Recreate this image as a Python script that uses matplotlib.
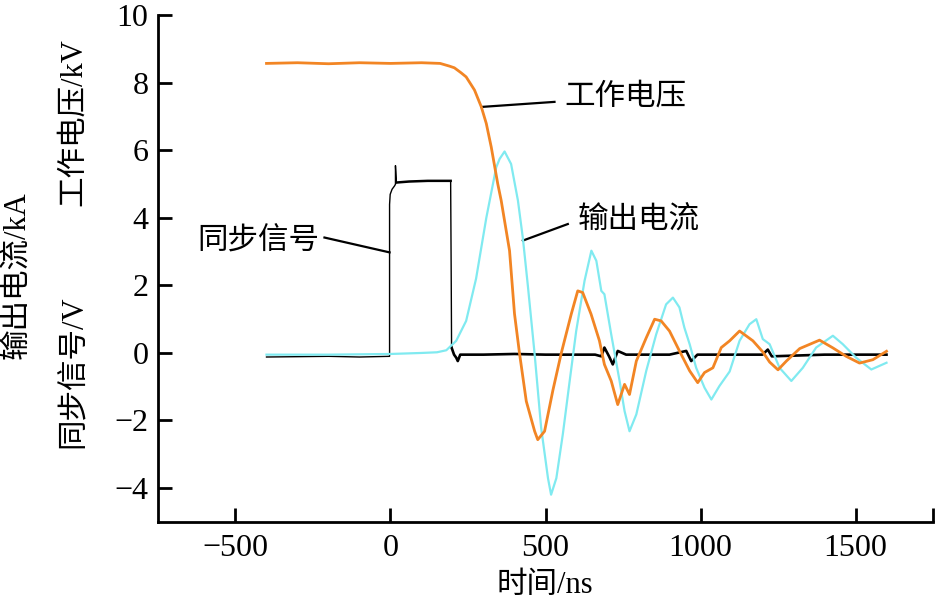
import matplotlib
matplotlib.use("Agg")
import matplotlib.pyplot as plt

# 字体: 数字用 Times 风格, 中文回退到 Noto Sans CJK
plt.rcParams['font.family'] = ['Liberation Serif', 'Noto Sans CJK SC']
plt.rcParams['axes.unicode_minus'] = True

# 工作电压 (kV)
volt_t = [-400, -300, -200, -100, 0, 100, 160, 190, 206, 228, 244, 260, 271, 293, 309,
          325, 346, 357, 384, 400, 416, 438, 465, 475, 497, 524, 551, 583, 604, 620,
          647, 674, 690, 712, 733, 755, 771, 793, 825, 852, 873, 900, 932, 965, 991,
          1013, 1040, 1067, 1094, 1126, 1169, 1201, 1223, 1250, 1277, 1320, 1384, 1427,
          1470, 1513, 1556, 1600]
volt_v = [8.58, 8.6, 8.57, 8.6, 8.58, 8.6, 8.58, 8.5, 8.45, 8.3, 8.18, 7.95, 7.79, 7.29, 6.80,
          6.10, 5.01, 4.52, 3.03, 1.16, 0.0, -1.43, -2.32, -2.57, -2.32, -1.1, 0.0, 1.15, 1.84, 1.79,
          1.15, 0.36, -0.34, -0.83, -1.53, -0.93, -1.23, -0.24, 0.45, 1.0, 0.95, 0.65, 0.06, -0.53, -0.88,
          -0.58, -0.44, 0.16, 0.36, 0.65, 0.36, 0.03, -0.27, -0.5, -0.24, 0.13, 0.38, 0.15,
          -0.1, -0.3, -0.2, 0.05]

# 输出电流 (kA)
curr_t = [-400, -200, 0, 100, 150, 180, 212, 244, 276, 309, 341, 352, 368, 389, 411, 427, 443,
          465, 486, 508, 518, 535, 556, 577, 599, 626, 648, 664, 680, 690, 712, 739, 755, 771,
          793, 825, 857, 889, 911, 932, 948, 965, 986, 1013, 1035, 1061, 1094, 1126, 1158,
          1180, 1201, 1223, 1255, 1293, 1330, 1373, 1427, 1459, 1502, 1551, 1600]
curr_v = [-0.05, -0.05, -0.03, 0.0, 0.02, 0.08, 0.36, 0.95, 2.2, 4.0, 5.5, 5.75, 5.97, 5.6, 4.52, 3.4, 2.0,
          -0.04, -2.22, -3.71, -4.2, -3.71, -2.4, -0.9, 0.65, 2.14, 3.03, 2.73, 1.84, 1.74, 0.55, -0.83, -1.72, -2.32,
          -1.82, -0.53, 0.55, 1.44, 1.64, 1.35, 0.75, 0.26, -0.44, -1.03, -1.38, -0.98, -0.55, 0.36, 0.85,
          1.0, 0.41, 0.26, -0.44, -0.83, -0.44, 0.16, 0.51, 0.26, -0.14, -0.49, -0.29]

# 同步信号 (V)
sync_t = [-400, -200, -100, -3, -3, -1, 5, 13, 16, 16, 19, 60, 120, 194, 196, 197, 205, 212, 217,
          225, 300, 400, 500, 600, 660, 680, 690, 705, 717, 733, 760, 900, 954, 970, 990, 1200,
          1217, 1230, 1400, 1600]
sync_v = [-0.12, -0.1, -0.12, -0.1, 4.4, 4.7, 4.85, 4.95, 5.0, 5.55, 5.05, 5.08, 5.1, 5.1, 2.0, 0.16,
          -0.05, -0.14, -0.24, -0.05, -0.05, -0.03, -0.05, -0.05, -0.05, -0.1, 0.16, -0.1, -0.34, 0.06,
          -0.05, -0.05, 0.06, -0.24, -0.05, -0.05, 0.1, -0.1, -0.05, -0.05]

fig = plt.figure(figsize=(9.36, 6.05), dpi=100)
ax = fig.add_axes([0.1688, 0.1377, 0.8280, 0.8367])

# 同步信号: 脉冲前后噪声不同, 线宽分段
ax.plot(sync_t[:11], sync_v[:11], color='black', lw=1.0, zorder=2)
ax.plot(sync_t[10:14], sync_v[10:14], color='black', lw=1.8, zorder=2)
ax.plot(sync_t[13:16], sync_v[13:16], color='black', lw=1.0, zorder=2)
ax.plot(sync_t[15:], sync_v[15:], color='black', lw=1.9, zorder=2)
ax.plot(curr_t, curr_v, color='#80EAF0', lw=1.6, zorder=3)
ax.plot(volt_t, volt_v, color='#F28524', lw=2.0, zorder=4)

# 标注
ax.plot([293, 529], [7.29, 7.44], color='black', lw=1.6)
ax.text(561, 7.58, '工作电压', fontsize=22, va='center', ha='left')
ax.plot([427, 572], [3.33, 3.82], color='black', lw=1.6)
ax.text(603, 3.92, '输出电流', fontsize=22, va='center', ha='left')
ax.plot([-213, -3], [3.42, 2.98], color='black', lw=1.6)
ax.text(-229, 3.33, '同步信号', fontsize=22, va='center', ha='right')

ax.set_xlim(-750, 1750)
ax.set_ylim(-5, 10)
ax.set_xticks([-500, 0, 500, 1000, 1500])
ax.set_xticks([1750], minor=True)
ax.set_yticks([-4, -2, 0, 2, 4, 6, 8, 10])

for s in ['top', 'right']:
    ax.spines[s].set_visible(False)
for s in ['left', 'bottom']:
    ax.spines[s].set_linewidth(2)
ax.tick_params(which='both', direction='in', length=10, width=2, labelsize=23)
ax.tick_params(axis='x', pad=9)
ax.tick_params(axis='y', pad=7)

fig.text(0.582, 0.033, '时间/ns', fontsize=22, ha='center', va='center')
fig.text(0.019, 0.545, '输出电流/kA', fontsize=22, ha='center', va='center', rotation=90)
fig.text(0.078, 0.798, '工作电压/kV', fontsize=22, ha='center', va='center', rotation=90)
fig.text(0.078, 0.385, '同步信号/V', fontsize=22, ha='center', va='center', rotation=90)

fig.savefig('out.png', dpi=100)
